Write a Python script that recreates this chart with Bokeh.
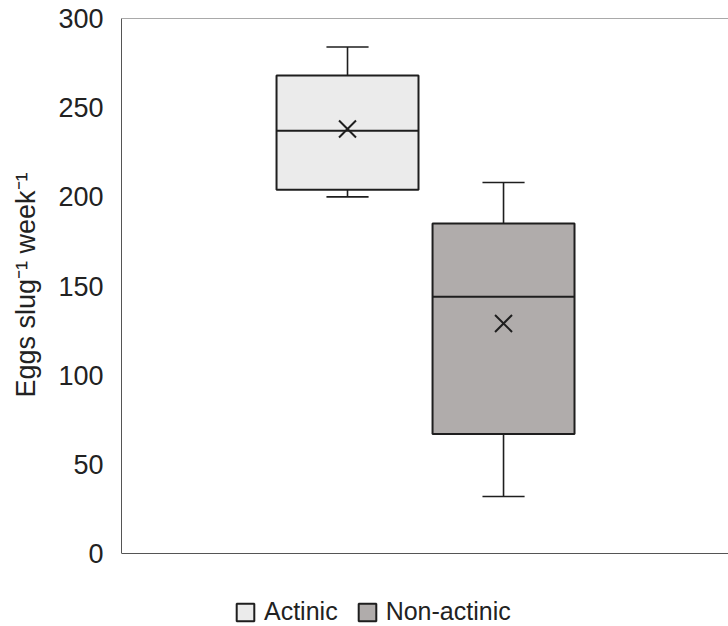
from bokeh.plotting import figure
from bokeh.models import Range1d, FixedTicker, Span, Legend, LegendItem, ColumnDataSource
from bokeh.embed import file_html
from bokeh.resources import INLINE

# ---- data ----
groups = ["Actinic", "Non-actinic"]
positions = [1, 2]
q1 = [204, 67]
q3 = [268, 185]
medians = [237, 144]
means = [238, 129]
whisker_low = [200, 32]
whisker_high = [284, 208]
fills = ["#ebebeb", "#b0acab"]
y_ticks = [0, 50, 100, 150, 200, 250, 300]

BOX_W = 0.91
CAP = 0.135
LINE = "#1e1e1e"
FONT = "Liberation Sans"
Y_MIN, Y_MAX = 0, 300
# frame spans whole lower area; 300 units over 535 px, 73 px of legend space below 0
Y_LOW = -73 * (Y_MAX - Y_MIN) / 535.0

src = ColumnDataSource(dict(
    x=positions, q1=q1, q3=q3, med=medians, mean=means,
    lo=whisker_low, hi=whisker_high, fill=fills, group=groups,
    cl=[x - CAP for x in positions], cr=[x + CAP for x in positions],
    bl=[x - BOX_W / 2 for x in positions], br=[x + BOX_W / 2 for x in positions],
))

p = figure(width=728, height=626, output_backend="svg", toolbar_location=None,
           x_range=Range1d(-0.4487, 3.442), y_range=Range1d(Y_LOW, Y_MAX),
           min_border_left=121, min_border_right=0, min_border_top=18, min_border_bottom=0)
p.outline_line_color = None
p.grid.visible = False
p.xaxis.visible = False

ya = p.yaxis[0]
ya.bounds = (Y_MIN, Y_MAX)
ya.ticker = FixedTicker(ticks=y_ticks)
ya.axis_line_color = "#555555"
ya.axis_line_width = 1
ya.major_tick_line_color = None
ya.minor_tick_line_color = None
ya.major_tick_out = 0
ya.major_tick_in = 0
ya.minor_tick_out = 0
ya.major_label_text_font = FONT
ya.major_label_text_font_size = "27px"
ya.major_label_text_color = "#222222"
ya.major_label_standoff = 18
# leading no-break spaces shift the centred label up to the middle of the 0-300 span
ya.axis_label = "\u00a0" * 10 + "Eggs slug\u207b\u00b9 week\u207b\u00b9"
ya.axis_label_text_font = FONT
ya.axis_label_text_font_size = "27px"
ya.axis_label_text_font_style = "normal"
ya.axis_label_text_color = "#222222"
ya.axis_label_standoff = 14

for loc in (Y_MIN, Y_MAX):
    p.add_layout(Span(location=loc, dimension="width", line_color="#555555", line_width=1))

# whiskers
p.segment(x0="x", y0="q3", x1="x", y1="hi", source=src, line_color=LINE, line_width=1.6)
p.segment(x0="x", y0="q1", x1="x", y1="lo", source=src, line_color=LINE, line_width=1.6)
p.segment(x0="cl", y0="hi", x1="cr", y1="hi", source=src, line_color=LINE, line_width=1.6)
p.segment(x0="cl", y0="lo", x1="cr", y1="lo", source=src, line_color=LINE, line_width=1.6)

boxes = p.vbar(x="x", width=BOX_W, bottom="q1", top="q3", source=src,
               fill_color="fill", line_color=LINE, line_width=2)
p.segment(x0="bl", y0="med", x1="br", y1="med", source=src, line_color=LINE, line_width=2)
p.scatter(x="x", y="mean", source=src, marker="x", size=24, line_color=LINE, line_width=2)

legend = Legend(items=[LegendItem(label=g, renderers=[boxes], index=i) for i, g in enumerate(groups)],
                orientation="horizontal", location=(113, 0),
                background_fill_alpha=0, border_line_color=None,
                glyph_width=22, glyph_height=22, label_standoff=8, spacing=18,
                label_text_font=FONT, label_text_font_size="25px", label_text_color="#222222",
                padding=0, margin=0)
p.add_layout(legend, "center")

open("out.html", "w").write(file_html(p, INLINE))
